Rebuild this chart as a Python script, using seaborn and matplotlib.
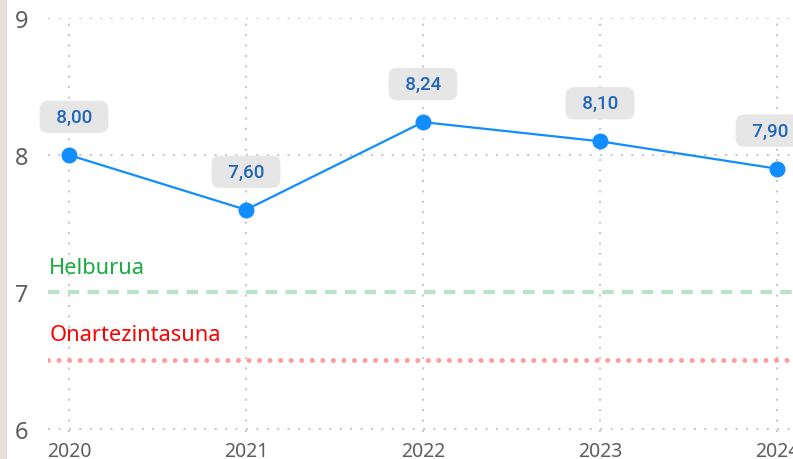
"""Line chart of yearly score against target and acceptance thresholds."""

import pandas as pd
import seaborn as sns
from matplotlib import pyplot as plt
from matplotlib.patches import Rectangle

plt.switch_backend("Agg")

YEARS = [2020, 2021, 2022, 2023, 2024]
SCORES = [8.00, 7.60, 8.24, 8.10, 7.90]
TARGET = 7.0
TARGET_LABEL = "Helburua"
LIMIT = 6.5
LIMIT_LABEL = "Onartezintasuna"
Y_TICKS = [6, 7, 8, 9]

# label offsets in points (first and last are pushed inside the plot)
LABEL_DX = [3.6, 0, 0, 0, -5]

LINE_BLUE = "#118DFF"
LABEL_BLUE = "#2166b8"
GREY_TEXT = "#605e5c"
GRID = dict(color="#c8c8c8", lw=1.5, linestyle=(0, (1, 4)), zorder=1)


def main() -> None:
    sns.set_theme(style="white")
    plt.rcParams["font.family"] = ["Noto Sans", "DejaVu Sans"]

    df = pd.DataFrame({"Year": YEARS, "Score": SCORES})

    fig = plt.figure(figsize=(7.93, 4.60), dpi=100)
    fig.patch.set_facecolor("white")
    fig.patches.append(
        Rectangle((0, 0), 7 / 793, 1, transform=fig.transFigure,
                  facecolor="#e5e1da", edgecolor="none", zorder=0)
    )

    ax = fig.add_axes([48 / 793, 27 / 460, 745 / 793, 414 / 460])
    ax.set_facecolor("none")

    # grid: vertical lines everywhere, horizontal ones except where a reference line sits
    for year in YEARS:
        ax.axvline(year, **GRID)
    for tick in Y_TICKS:
        if tick != TARGET:
            ax.axhline(tick, **GRID)

    ax.axhline(TARGET, color="#b8e3c4", lw=3, linestyle=(0, (2.75, 2.0)), zorder=2)
    ax.axhline(LIMIT, color="#ff9c9c", lw=3.6, linestyle=(0, (0.01, 2.1)),
               dash_capstyle="round", zorder=2)

    sns.lineplot(data=df, x="Year", y="Score", ax=ax, color=LINE_BLUE, lw=1.6,
                 marker="o", markersize=11.5, markeredgewidth=0, zorder=4)

    for year, score, dx in zip(YEARS, SCORES, LABEL_DX):
        ax.annotate(
            "  " + f"{score:.2f}".replace(".", ",") + "  ",
            (year, score), xytext=(dx, 27.4), textcoords="offset points",
            ha="center", va="center", fontsize=13.5, color=LABEL_BLUE,
            family=["Roboto", "DejaVu Sans"], fontweight="medium",
            bbox=dict(boxstyle="round,pad=0.38,rounding_size=0.45",
                      facecolor="#e6e6e6", edgecolor="none"),
            zorder=5, annotation_clip=False,
        )

    ax.text(2019.888, 7.182, TARGET_LABEL, color="#1aab40", fontsize=15.7,
            ha="left", va="center")
    ax.text(2019.888, 6.693, LIMIT_LABEL, color="#ff0000", fontsize=15.7,
            ha="left", va="center")

    ax.set_xlim(2019.8814, 2024.0904)
    ax.set_ylim(5.978, 9.0)
    ax.set_xticks(YEARS)
    ax.set_xticklabels([str(y) for y in YEARS])
    ax.set_yticks(Y_TICKS)
    ax.tick_params(axis="x", length=0, pad=6.5, labelsize=14, labelcolor=GREY_TEXT)
    ax.tick_params(axis="y", length=0, pad=14, labelsize=17, labelcolor=GREY_TEXT)
    ax.set_xlabel("")
    ax.set_ylabel("")
    for spine in ax.spines.values():
        spine.set_visible(False)

    fig.savefig("out.png", dpi=100)
    plt.close(fig)


if __name__ == "__main__":
    main()
